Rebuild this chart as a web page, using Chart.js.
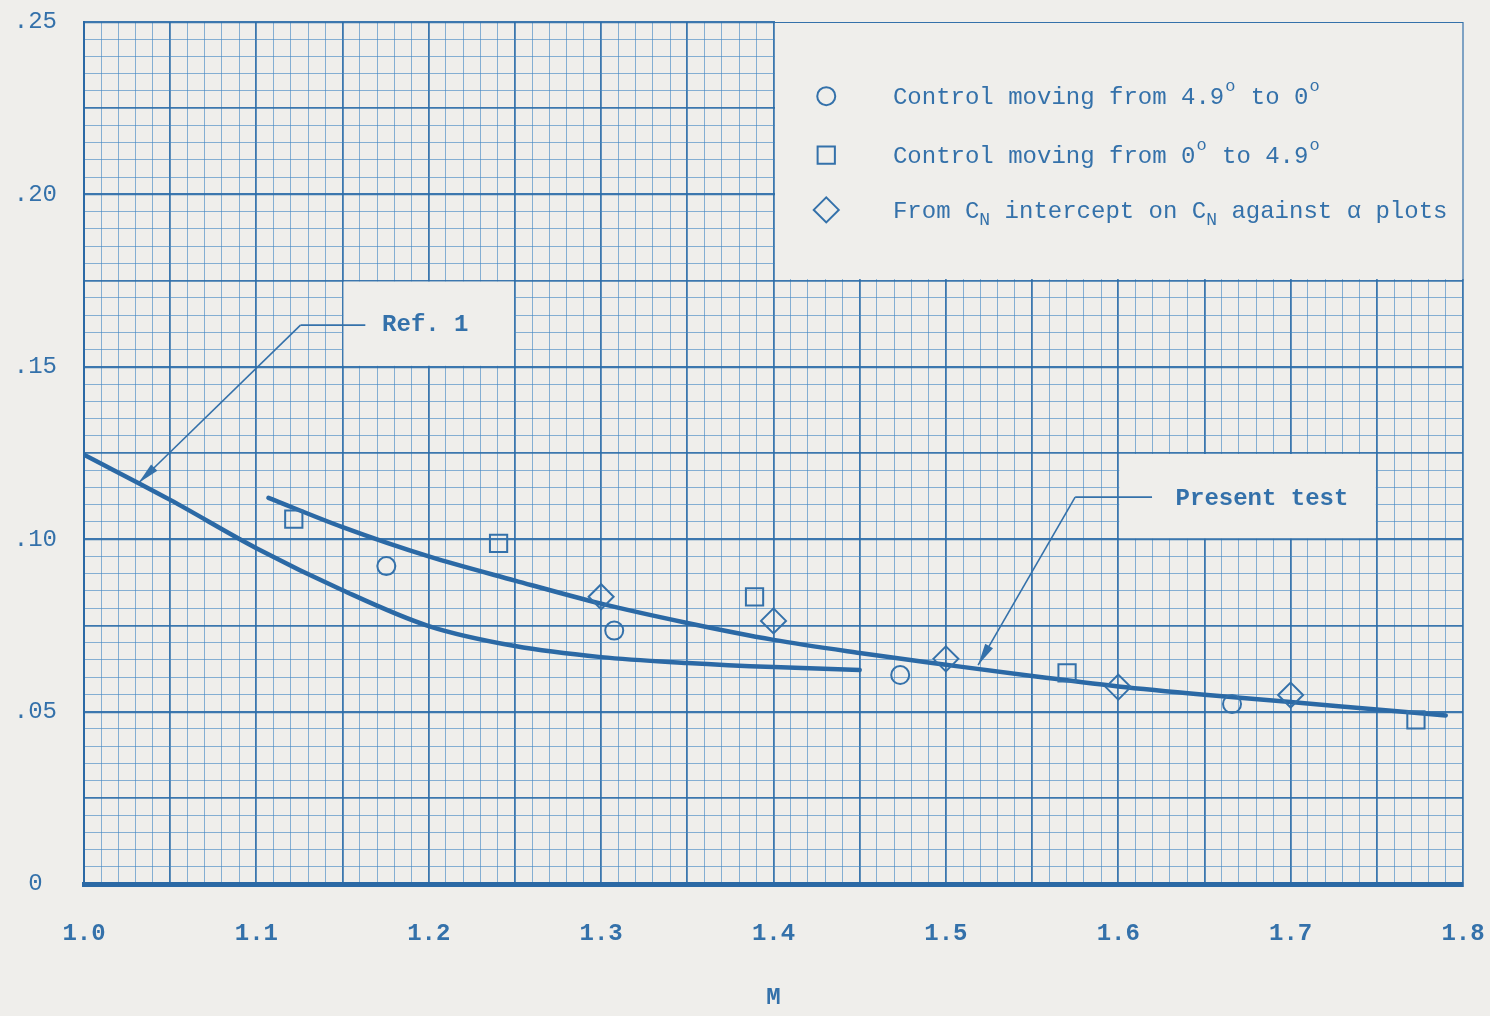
<!DOCTYPE html>
<html>
<head>
<meta charset="utf-8">
<script src="https://cdn.jsdelivr.net/npm/chart.js@4.4.1/dist/chart.umd.min.js"></script>
<style>
  html, body { margin: 0; padding: 0; background: #efeeeb; }
  #wrap { width: 1490px; height: 1016px; }
</style>
</head>
<body>
<div id="wrap"><canvas id="c" width="1490" height="1016"></canvas></div>
<script>
// Mach number / normal-force coefficient readings
const machCircle = [1.1754, 1.3076, 1.4735, 1.666];
const cnCircle   = [0.0922, 0.0735, 0.0606, 0.0522];

const machSquare = [1.1217, 1.2405, 1.389, 1.5703, 1.7727];
const cnSquare   = [0.1058, 0.0988, 0.0833, 0.0612, 0.0476];

const machDiamond = [1.30, 1.40, 1.50, 1.60, 1.70];
const cnDiamond   = [0.0833, 0.0763, 0.0653, 0.0571, 0.0548];

// Faired curves
const machRef = [1.0, 1.05, 1.1, 1.15, 1.2, 1.25, 1.3, 1.35, 1.4, 1.45];
const cnRef   = [0.1245, 0.1114, 0.0974, 0.0852, 0.0748, 0.0690, 0.0658, 0.0641, 0.0629, 0.0621];

const machPresent = [1.107, 1.15, 1.2, 1.25, 1.3, 1.35, 1.4, 1.45, 1.5, 1.55, 1.6, 1.65, 1.7, 1.75, 1.79];
const cnPresent   = [0.1120, 0.1035, 0.0950, 0.0880, 0.0813, 0.0757, 0.0708, 0.0670, 0.0636, 0.0603, 0.0573, 0.0549, 0.0528, 0.0506, 0.0489];

// Axis tick labels
const xTickLabels = ['1.0', '1.1', '1.2', '1.3', '1.4', '1.5', '1.6', '1.7', '1.8'];
const yTickLabels = ['0', '.05', '.10', '.15', '.20', '.25'];

const seriesLabels = [
  'Control moving from 4.9° to 0°',
  'Control moving from 0° to 4.9°',
  'From C_N intercept on C_N against α plots'
];
const curveLabels = ['Ref. 1', 'Present test'];

const INK = '#3471aa';
const LINE = '#2b69a5';
const PAPER = '#efeeeb';
const FONT = "'Liberation Mono', 'DejaVu Sans Mono', monospace";

const pts = (xs, ys) => xs.map((x, i) => ({ x: x, y: ys[i] }));

// paper background
const paperPlugin = {
  id: 'paper',
  beforeDraw(chart) {
    const ctx = chart.ctx;
    ctx.save();
    ctx.fillStyle = PAPER;
    ctx.fillRect(0, 0, chart.width, chart.height);
    ctx.restore();
  }
};

// draws text with ° as raised small o and _X as subscript X
function richText(ctx, str, x, y) {
  let cx = x;
  for (let i = 0; i < str.length; i++) {
    const ch = str[i];
    if (ch === '°') {
      ctx.font = '17px ' + FONT;
      ctx.fillText('o', cx + 1, y - 13);
      cx += ctx.measureText('o').width + 2;
    } else if (ch === '_' && i + 1 < str.length) {
      i++;
      ctx.font = '18px ' + FONT;
      ctx.fillText(str[i], cx, y + 7);
      cx += ctx.measureText(str[i]).width;
    } else {
      ctx.font = '24px ' + FONT;
      ctx.fillText(ch, cx, y);
      cx += ctx.measureText(ch).width;
    }
  }
}

function drawMarker(ctx, style, r, x, y) {
  ctx.beginPath();
  if (style === 'circle') {
    ctx.arc(x, y, r, 0, Math.PI * 2);
  } else if (style === 'rect') {
    const s = Math.SQRT1_2 * r;
    ctx.rect(x - s, y - s, 2 * s, 2 * s);
  } else {
    ctx.moveTo(x - r, y); ctx.lineTo(x, y - r); ctx.lineTo(x + r, y); ctx.lineTo(x, y + r);
    ctx.closePath();
  }
  ctx.stroke();
}

function arrowLine(ctx, x0, y0, x1, y1) {
  ctx.beginPath();
  ctx.moveTo(x0, y0);
  ctx.lineTo(x1, y1);
  ctx.stroke();
  const a = Math.atan2(y1 - y0, x1 - x0);
  const len = 22, half = 4.5;
  const bx = x1 - Math.cos(a) * len, by = y1 - Math.sin(a) * len;
  ctx.beginPath();
  ctx.moveTo(x1, y1);
  ctx.lineTo(bx + Math.sin(a) * half, by - Math.cos(a) * half);
  ctx.lineTo(bx - Math.sin(a) * half, by + Math.cos(a) * half);
  ctx.closePath();
  ctx.fill();
}

// legend block, label boxes and leader arrows on the grid
const notesPlugin = {
  id: 'notes',
  beforeDatasetsDraw(chart) {
    const ctx = chart.ctx;
    const xs = chart.scales.x, ys = chart.scales.y;
    const X = v => xs.getPixelForValue(v);
    const Y = v => ys.getPixelForValue(v);
    const area = chart.chartArea;
    ctx.save();

    // blank panels
    ctx.fillStyle = PAPER;
    const lx = X(1.4), ly = Y(0.175);
    ctx.fillRect(lx + 1.5, area.top - 3, area.right - lx + 3, ly - area.top + 1.5);
    ctx.fillRect(X(1.15) + 1, Y(0.175) + 1, X(1.25) - X(1.15) - 2, Y(0.15) - Y(0.175) - 2);
    ctx.fillRect(X(1.6) + 1, Y(0.125) + 1, X(1.75) - X(1.6) - 2, Y(0.10) - Y(0.125) - 2);

    // thin frame of the legend panel
    ctx.strokeStyle = INK;
    ctx.lineWidth = 1.2;
    ctx.beginPath();
    ctx.moveTo(lx, area.top + 0.5);
    ctx.lineTo(area.right, area.top + 0.5);
    ctx.lineTo(area.right, ly);
    ctx.stroke();

    // legend entries
    ctx.fillStyle = INK;
    ctx.textBaseline = 'alphabetic';
    ctx.textAlign = 'left';
    const ds = chart.data.datasets;
    const rows = [0.2285, 0.2114, 0.1955];
    for (let i = 0; i < 3; i++) {
      const d = ds[i];
      ctx.strokeStyle = INK;
      ctx.lineWidth = 2;
      drawMarker(ctx, d.pointStyle, d.pointRadius, X(1.4306), Y(rows[i]));
      ctx.fillStyle = INK;
      richText(ctx, seriesLabels[i], X(1.4693), Y(rows[i]) + 8);
    }

    // curve labels with leaders
    ctx.font = 'bold 24px ' + FONT;
    ctx.textAlign = 'center';
    ctx.textBaseline = 'middle';
    ctx.fillText(curveLabels[0], X(1.198), Y(0.1621));
    ctx.fillText(curveLabels[1], X(1.6834), Y(0.1117));

    ctx.strokeStyle = INK;
    ctx.fillStyle = INK;
    ctx.lineWidth = 1.6;
    ctx.beginPath();
    ctx.moveTo(X(1.1256), Y(0.1621));
    ctx.lineTo(X(1.1632), Y(0.1621));
    ctx.stroke();
    arrowLine(ctx, X(1.1256), Y(0.1621), X(1.0316), Y(0.1163));

    ctx.beginPath();
    ctx.moveTo(X(1.575), Y(0.1122));
    ctx.lineTo(X(1.6196), Y(0.1122));
    ctx.stroke();
    arrowLine(ctx, X(1.575), Y(0.1122), X(1.5187), Y(0.0635));

    ctx.restore();
  }
};

const MAJOR = 'rgba(44,108,168,0.92)';
const MINOR = 'rgba(66,134,196,0.62)';
const gridColorX = ctx => {
  const t = ctx.tick; if (!t) return INK;
  return Math.round(t.value * 100) % 5 === 0 ? MAJOR : MINOR;
};
const gridWidthX = ctx => {
  const t = ctx.tick; if (!t) return 1;
  return Math.round(t.value * 100) % 5 === 0 ? 1.8 : 1;
};
const gridColorY = ctx => {
  const t = ctx.tick; if (!t) return INK;
  return Math.round(t.value * 1000) % 25 === 0 ? MAJOR : MINOR;
};
const gridWidthY = ctx => {
  const t = ctx.tick; if (!t) return 1;
  const k = Math.round(t.value * 1000);
  if (k % 50 === 0) return 2.2;
  return k % 25 === 0 ? 1.7 : 1;
};

const markerBase = {
  showLine: false,
  borderColor: INK,
  backgroundColor: 'rgba(0,0,0,0)',
  pointBorderWidth: 2,
  pointBackgroundColor: 'rgba(0,0,0,0)',
  pointBorderColor: INK
};

new Chart(document.getElementById('c'), {
  type: 'scatter',
  data: {
    datasets: [
      Object.assign({ label: seriesLabels[0], data: pts(machCircle, cnCircle), pointStyle: 'circle', pointRadius: 9 }, markerBase),
      Object.assign({ label: seriesLabels[1], data: pts(machSquare, cnSquare), pointStyle: 'rect', pointRadius: 12.2 }, markerBase),
      Object.assign({ label: seriesLabels[2], data: pts(machDiamond, cnDiamond), pointStyle: 'rectRot', pointRadius: 12.5 }, markerBase),
      {
        label: curveLabels[0], data: pts(machRef, cnRef), showLine: true, pointRadius: 0,
        borderColor: LINE, borderWidth: 4.5, cubicInterpolationMode: 'monotone', borderCapStyle: 'round', order: 5
      },
      {
        label: curveLabels[1], data: pts(machPresent, cnPresent), showLine: true, pointRadius: 0,
        borderColor: LINE, borderWidth: 4.5, cubicInterpolationMode: 'monotone', borderCapStyle: 'round', order: 5
      }
    ]
  },
  options: {
    responsive: false,
    animation: false,
    devicePixelRatio: 1,
    layout: { padding: { left: 0, right: 27, top: 22, bottom: 0 } },
    plugins: { legend: { display: false }, tooltip: { enabled: false } },
    scales: {
      x: {
        type: 'linear', min: 1.0, max: 1.8,
        afterFit(s) { s.height = 132; s.paddingLeft = 0; s.paddingRight = 0; },
        ticks: {
          stepSize: 0.01, autoSkip: false, maxRotation: 0, maxTicksLimit: 1000,
          padding: 36, color: INK, font: { family: FONT, size: 24, weight: 'bold' },
          callback(v) {
            const k = Math.round(v * 100);
            return k % 10 === 0 ? xTickLabels[(k - 100) / 10] : '';
          }
        },
        grid: { drawTicks: false, color: gridColorX, lineWidth: gridWidthX },
        border: { display: true, color: LINE, width: 5 },
        title: { display: true, text: 'M', color: INK, font: { family: FONT, size: 24, weight: 'bold' }, padding: { top: 0, bottom: 4 } }
      },
      y: {
        type: 'linear', min: 0, max: 0.25,
        afterFit(s) { s.width = 84; s.paddingTop = 0; s.paddingBottom = 0; },
        ticks: {
          stepSize: 0.005, autoSkip: false, maxTicksLimit: 1000,
          padding: 27, color: INK, font: { family: FONT, size: 24 },
          callback(v) {
            const k = Math.round(v * 1000);
            if (k % 50 !== 0) return '';
            const lab = yTickLabels[k / 50];
            return lab.length < 3 ? lab + ' ' : lab;
          }
        },
        grid: { drawTicks: false, color: gridColorY, lineWidth: gridWidthY },
        border: { display: true, color: LINE, width: 2 }
      }
    }
  },
  plugins: [paperPlugin, notesPlugin]
});
</script>
</body>
</html>
